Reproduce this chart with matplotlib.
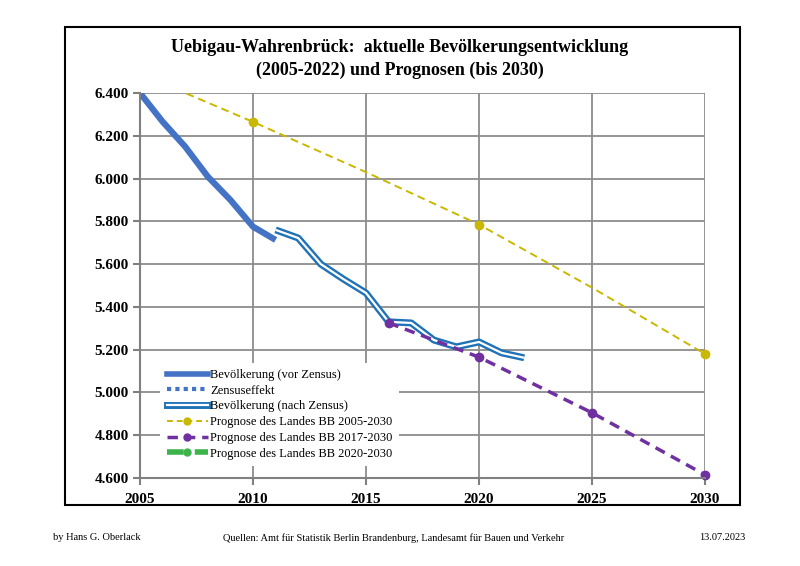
import matplotlib
matplotlib.use("Agg")
import matplotlib.pyplot as plt
from matplotlib.patches import Rectangle
from matplotlib.lines import Line2D

plt.rcParams['font.family'] = ['Liberation Serif', 'DejaVu Serif']

# data
years_vor = [2005, 2006, 2007, 2008, 2009, 2010, 2011]
pop_vor = [6400, 6266, 6149, 6009, 5900, 5775, 5713]

years_nach = [2011, 2012, 2013, 2014, 2015, 2016, 2017, 2018, 2019, 2020, 2021, 2022]
pop_nach = [5760, 5722, 5600, 5530, 5465, 5330, 5325, 5245, 5213, 5236, 5185, 5162]

years_p05 = [2005, 2010, 2015, 2020, 2025, 2030]
pop_p05 = [6490, 6265, 6030, 5785, 5490, 5180]
marked_p05 = [1, 3, 5]  # points shown with a marker

years_p17 = [2016, 2020, 2025, 2030]
pop_p17 = [5325, 5165, 4905, 4615]

legend_labels = ["Bevölkerung (vor Zensus)", "Zensuseffekt", "Bevölkerung (nach Zensus)",
                 "Prognose des Landes BB 2005-2030", "Prognose des Landes BB 2017-2030",
                 "Prognose des Landes BB 2020-2030"]

blue = "#4472C4"
dblue = "#1F72B8"
yellow = "#C9B800"
purple = "#7030A0"
green = "#3CB44A"

fig = plt.figure(figsize=(8, 5.66), dpi=100)
fig.patches.append(Rectangle((65/800, 1-505/566), 675/800, 478/566, transform=fig.transFigure,
                             fill=False, edgecolor="black", linewidth=1.5))
ax = fig.add_axes([140/800, 1-478/566, 565/800, 385/566])

ax.plot(years_vor, pop_vor, color=blue, lw=4.5, solid_capstyle="butt")
ax.plot(years_nach, pop_nach, color=dblue, lw=5, solid_capstyle="butt")
ax.plot(years_nach, pop_nach, color="white", lw=1.6, solid_capstyle="butt")
ax.plot(years_p05, pop_p05, color=yellow, lw=1.4, ls=(0, (4, 2.5)))
ax.plot([years_p05[i] for i in marked_p05], [pop_p05[i] for i in marked_p05],
        ls="none", marker="o", ms=6, color=yellow, clip_on=False)
ax.plot(years_p17, pop_p17, color=purple, lw=2.5, ls=(0, (3, 2)), marker="o", ms=6,
        clip_on=False)

ax.set_xlim(2005, 2030)
ax.set_ylim(4600, 6400)
ax.set_xticks(range(2005, 2031, 5))
ax.set_yticks(range(4600, 6401, 200))
ax.set_yticklabels([f"{v:,}".replace(",", ".") for v in range(4600, 6401, 200)])
for lab in ax.get_xticklabels() + ax.get_yticklabels():
    lab.set_fontweight("bold")
    lab.set_fontsize(11)
ax.tick_params(axis="both", color="#808080", length=5, width=1.5)
ax.tick_params(axis="x", direction="out", pad=6)
ax.tick_params(axis="y", direction="out", pad=3)
ax.grid(True, color="#8C8C8C", lw=1.3)
ax.set_axisbelow(True)
for side in ["top", "right"]:
    ax.spines[side].set_visible(False)
for side in ["left", "bottom"]:
    ax.spines[side].set_color("#808080")
    ax.spines[side].set_linewidth(1.5)

handles = [
    Line2D([], [], color=blue, lw=4),
    Line2D([], [], color=blue, lw=3, ls=(0, (1, 1))),
    (Line2D([], [], color=dblue, lw=5), Line2D([], [], color="white", lw=1.6)),
    Line2D([], [], color=yellow, lw=1.4, ls=(0, (3, 2)), marker="o", ms=5),
    Line2D([], [], color=purple, lw=2.5, ls=(0, (3, 2)), marker="o", ms=5),
    Line2D([], [], color=green, lw=4, ls=(0, (3, 2)), marker="o", ms=5),
]
leg = ax.legend(handles, legend_labels, loc="lower left", bbox_to_anchor=(0.025, 0.015),
                frameon=True, framealpha=1, edgecolor="white", fontsize=9,
                handlelength=3.3, handletextpad=0.2, labelspacing=0.3, borderpad=0.5)
leg.get_frame().set_linewidth(0)

fig.text(0.5, 1-47/566, "Uebigau-Wahrenbrück:  aktuelle Bevölkerungsentwicklung",
         ha="center", va="center", fontsize=13, fontweight="bold")
fig.text(0.5, 1-70/566, "(2005-2022) und Prognosen (bis 2030)",
         ha="center", va="center", fontsize=13, fontweight="bold")

fig.text(53/800, 1-538/566, "by Hans G. Oberlack", fontsize=7.5, va="center")
fig.text(394/800, 1-538/566, "Quellen: Amt für Statistik Berlin Brandenburg, Landesamt für Bauen und Verkehr",
         fontsize=7.5, va="center", ha="center")
fig.text(745/800, 1-538/566, "13.07.2023", fontsize=7.5, va="center", ha="right")

fig.savefig("out.png", dpi=100, facecolor="white")
